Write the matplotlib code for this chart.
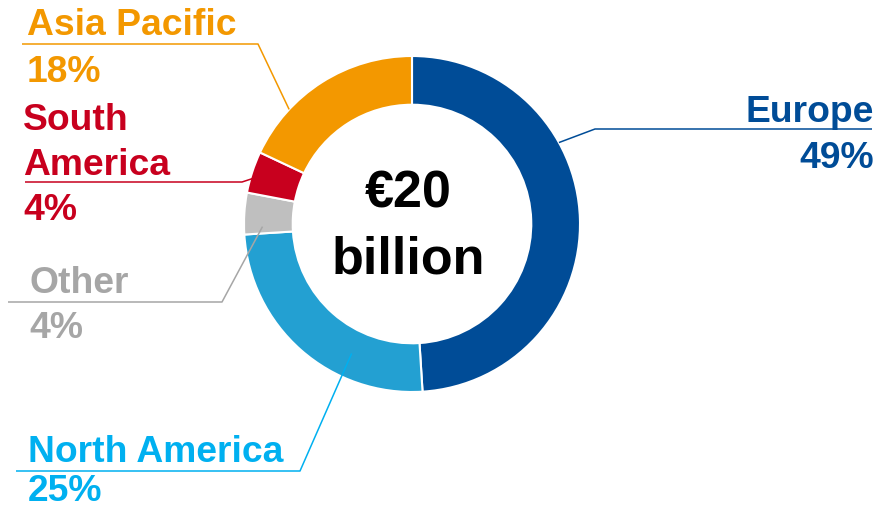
import numpy as np
import matplotlib.pyplot as plt

regions = ['Europe', 'North America', 'Other', 'South America', 'Asia Pacific']
shares = [49, 25, 4, 4, 18]
wedge_colors = ['#004c97', '#23a0d2', '#bfbfbf', '#c8001e', '#f39800']
text_colors = ['#004c97', '#00b0f0', '#a6a6a6', '#c8001e', '#f39800']
label_lines = [['Europe'], ['North America'], ['Other'], ['South', 'America'], ['Asia Pacific']]
center_text = ['\u20ac20', 'billion']

# pixel layout of the reference image (894x509), centre of donut and radius
W, H = 894, 509
cx, cy, R = 412, 224, 168

def px(x, y):
    return (x - cx) / R, (cy - y) / R

# leader line: anchor angle (deg) / radius on ring, elbow pixel, line end x
leaders = {
    'Europe':        dict(ang=29,  r=1.0,  elbow=(595, 129), end=872, tx=874, ha='right', base=[122, 168]),
    'North America': dict(ang=245, r=0.85, elbow=(300, 471), end=16,  tx=28,  ha='left',  base=[462, 501]),
    'Other':         dict(ang=181, r=0.89, elbow=(222, 302), end=8,   tx=29,  ha='left',  base=[293, 338]),
    'South America': dict(ang=157, r=0.84, elbow=(242, 182), end=25,  tx=23,  ha='left',  base=[130, 175, 220]),
    'Asia Pacific':  dict(ang=137, r=1.0,  elbow=(258, 44),  end=22,  tx=27,  ha='left',  base=[35, 82]),
}

plt.rcParams['font.family'] = ['Liberation Sans', 'DejaVu Sans']

fig = plt.figure(figsize=(W / 100, H / 100), dpi=100)
ax = fig.add_axes([0, 0, 1, 1])

ax.pie(shares, colors=wedge_colors, startangle=90, counterclock=False, radius=1.0,
       wedgeprops=dict(width=0.29, edgecolor='white', linewidth=1.5))

for i, name in enumerate(regions):
    L = leaders[name]
    a = np.deg2rad(L['ang'])
    x0, y0 = L['r'] * np.cos(a), L['r'] * np.sin(a)
    x1, y1 = px(*L['elbow'])
    x2, _ = px(L['end'], L['elbow'][1])
    ax.plot([x0, x1, x2], [y0, y1, y1], color=text_colors[i], lw=1.1, solid_capstyle='butt')
    lines = label_lines[i] + ['%d%%' % shares[i]]
    for txt, b in zip(lines, L['base']):
        tx, ty = px(L['tx'], b)
        ax.text(tx, ty, txt, ha=L['ha'], va='baseline', fontsize=26.8,
                fontweight='bold', color=text_colors[i])

for txt, b in zip(center_text, [207, 273]):
    tx, ty = px(408, b)
    ax.text(tx, ty, txt, ha='center', va='baseline', fontsize=37.5, fontweight='bold', color='black')

ax.set_xlim(px(0, 0)[0], px(W, 0)[0])
ax.set_ylim(px(0, H)[1], px(0, 0)[1])
ax.set_aspect('auto')
ax.axis('off')

fig.savefig('out.png', dpi=100, facecolor='white')
